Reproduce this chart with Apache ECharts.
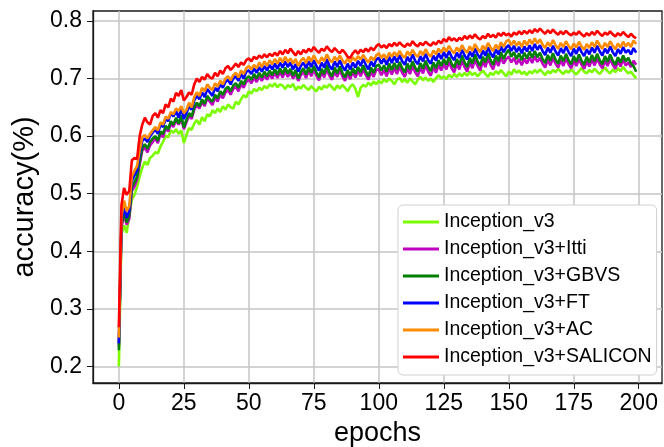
<!DOCTYPE html>
<html>
<head>
<meta charset="utf-8">
<script src="https://cdn.jsdelivr.net/npm/echarts@6/dist/echarts.min.js"></script>
<style>html,body{margin:0;padding:0;background:#fff}#c{width:664px;height:447px}</style>
</head>
<body>
<div id="c"></div>
<script>
const seriesNames = ['Inception_v3','Inception_v3+Itti','Inception_v3+GBVS','Inception_v3+FT','Inception_v3+AC','Inception_v3+SALICON'];
const xTicks = [0,25,50,75,100,125,150,175,200];
const yTicks = [0.2,0.3,0.4,0.5,0.6,0.7,0.8];

const base = [0.200,0.430,0.445,0.432,0.462,0.490,0.498,0.512,0.530,0.545,0.556,0.550,0.562,0.566,0.572,0.570,0.582,0.590,0.601,0.598,
0.610,0.606,0.612,0.604,0.610,0.588,0.602,0.614,0.611,0.622,0.628,0.620,0.633,0.626,0.638,0.634,0.645,0.640,0.648,0.642,
0.652,0.646,0.655,0.650,0.648,0.660,0.655,0.664,0.671,0.667,0.678,0.674,0.682,0.678,0.684,0.680,0.687,0.683,0.690,0.686,
0.692,0.685,0.690,0.688,0.682,0.689,0.685,0.691,0.680,0.686,0.683,0.689,0.684,0.680,0.687,0.682,0.678,0.686,0.681,0.688,
0.684,0.690,0.685,0.680,0.688,0.683,0.689,0.684,0.678,0.686,0.690,0.682,0.668,0.684,0.689,0.686,0.693,0.688,0.695,0.690,
0.696,0.692,0.699,0.694,0.700,0.696,0.690,0.698,0.701,0.694,0.699,0.693,0.700,0.695,0.690,0.698,0.703,0.697,0.702,0.696,
0.700,0.694,0.701,0.706,0.700,0.704,0.699,0.707,0.702,0.708,0.703,0.709,0.704,0.710,0.705,0.712,0.706,0.710,0.704,0.709,
0.714,0.708,0.703,0.710,0.706,0.713,0.708,0.715,0.709,0.704,0.712,0.707,0.716,0.710,0.714,0.708,0.712,0.706,0.713,0.709,
0.715,0.710,0.716,0.711,0.706,0.713,0.709,0.715,0.711,0.717,0.712,0.708,0.714,0.710,0.716,0.711,0.707,0.713,0.718,0.712,
0.709,0.715,0.711,0.717,0.712,0.708,0.714,0.719,0.713,0.709,0.716,0.711,0.718,0.713,0.720,0.714,0.709,0.712,0.706,0.700];

const itti = [0.235,0.440,0.465,0.446,0.456,0.505,0.512,0.525,0.550,0.575,0.580,0.572,0.584,0.590,0.596,0.588,0.604,0.598,0.614,0.608,
0.622,0.616,0.628,0.620,0.630,0.612,0.624,0.636,0.630,0.646,0.654,0.648,0.660,0.652,0.666,0.660,0.654,0.668,0.660,0.672,
0.666,0.676,0.680,0.672,0.682,0.686,0.678,0.690,0.684,0.694,0.698,0.692,0.702,0.694,0.704,0.696,0.706,0.698,0.708,0.700,
0.710,0.701,0.712,0.702,0.713,0.703,0.711,0.700,0.709,0.696,0.706,0.712,0.701,0.714,0.704,0.716,0.705,0.697,0.711,0.702,
0.717,0.705,0.698,0.713,0.703,0.715,0.704,0.696,0.709,0.699,0.712,0.702,0.714,0.704,0.716,0.706,0.698,0.712,0.703,0.715,
0.716,0.706,0.715,0.704,0.718,0.707,0.719,0.708,0.721,0.710,0.703,0.718,0.708,0.722,0.711,0.704,0.719,0.709,0.723,0.712,
0.705,0.720,0.710,0.724,0.714,0.726,0.716,0.729,0.718,0.711,0.726,0.716,0.731,0.720,0.712,0.728,0.718,0.733,0.722,0.714,
0.730,0.720,0.735,0.724,0.716,0.732,0.722,0.737,0.726,0.734,0.738,0.728,0.736,0.725,0.734,0.723,0.735,0.726,0.737,0.727,
0.739,0.729,0.736,0.726,0.719,0.733,0.723,0.736,0.726,0.719,0.732,0.722,0.735,0.725,0.718,0.731,0.722,0.734,0.724,0.717,
0.730,0.721,0.733,0.723,0.735,0.725,0.718,0.731,0.722,0.734,0.724,0.717,0.730,0.721,0.733,0.723,0.728,0.720,0.731,0.724];

const gbvs = [0.228,0.445,0.470,0.450,0.462,0.512,0.520,0.530,0.556,0.580,0.586,0.578,0.590,0.596,0.600,0.592,0.608,0.604,0.618,0.612,
0.626,0.620,0.632,0.622,0.636,0.615,0.628,0.640,0.634,0.650,0.658,0.652,0.664,0.656,0.670,0.664,0.660,0.672,0.666,0.678,
0.672,0.682,0.686,0.678,0.688,0.692,0.684,0.696,0.690,0.700,0.704,0.698,0.708,0.700,0.710,0.702,0.712,0.704,0.714,0.706,
0.716,0.707,0.718,0.708,0.719,0.709,0.717,0.705,0.715,0.700,0.712,0.718,0.707,0.720,0.710,0.722,0.711,0.702,0.717,0.708,
0.724,0.711,0.704,0.719,0.709,0.721,0.710,0.702,0.715,0.705,0.718,0.708,0.720,0.711,0.723,0.713,0.704,0.719,0.710,0.722,
0.724,0.714,0.723,0.712,0.726,0.715,0.727,0.716,0.729,0.718,0.711,0.726,0.716,0.730,0.719,0.712,0.727,0.717,0.731,0.720,
0.713,0.728,0.718,0.732,0.722,0.734,0.724,0.737,0.726,0.719,0.734,0.724,0.740,0.728,0.720,0.736,0.726,0.742,0.730,0.722,
0.738,0.728,0.744,0.732,0.724,0.740,0.730,0.746,0.734,0.744,0.750,0.738,0.746,0.734,0.744,0.732,0.745,0.735,0.747,0.736,
0.748,0.737,0.745,0.734,0.727,0.741,0.731,0.744,0.733,0.726,0.740,0.730,0.743,0.732,0.725,0.739,0.729,0.742,0.731,0.724,
0.738,0.728,0.741,0.730,0.743,0.732,0.725,0.739,0.729,0.742,0.731,0.724,0.737,0.728,0.740,0.730,0.736,0.726,0.722,0.712];

const ft = [0.240,0.452,0.478,0.458,0.470,0.522,0.532,0.540,0.568,0.592,0.596,0.590,0.600,0.606,0.612,0.604,0.620,0.616,0.630,0.626,
0.640,0.634,0.644,0.632,0.648,0.630,0.640,0.652,0.646,0.662,0.670,0.664,0.676,0.668,0.682,0.676,0.670,0.684,0.678,0.690,
0.684,0.694,0.698,0.690,0.700,0.704,0.696,0.708,0.700,0.712,0.714,0.708,0.718,0.710,0.720,0.712,0.722,0.714,0.724,0.716,
0.726,0.717,0.728,0.719,0.730,0.720,0.728,0.716,0.725,0.712,0.722,0.728,0.718,0.730,0.720,0.732,0.722,0.714,0.728,0.719,
0.734,0.722,0.716,0.730,0.720,0.732,0.721,0.714,0.726,0.716,0.728,0.719,0.731,0.722,0.734,0.724,0.716,0.730,0.721,0.733,
0.736,0.726,0.735,0.724,0.738,0.727,0.739,0.728,0.741,0.730,0.724,0.738,0.729,0.742,0.731,0.725,0.739,0.730,0.743,0.732,
0.726,0.740,0.731,0.744,0.734,0.746,0.736,0.748,0.738,0.732,0.745,0.736,0.750,0.740,0.733,0.747,0.738,0.752,0.742,0.735,
0.749,0.740,0.754,0.744,0.737,0.751,0.742,0.756,0.746,0.754,0.758,0.748,0.757,0.746,0.755,0.744,0.756,0.747,0.758,0.748,
0.760,0.750,0.758,0.748,0.741,0.754,0.745,0.757,0.747,0.740,0.753,0.744,0.756,0.746,0.739,0.752,0.743,0.755,0.746,0.739,
0.751,0.742,0.754,0.745,0.757,0.747,0.740,0.752,0.744,0.756,0.746,0.739,0.751,0.743,0.755,0.745,0.750,0.742,0.753,0.745];

const ac = [0.250,0.460,0.488,0.470,0.478,0.530,0.540,0.548,0.575,0.598,0.602,0.596,0.604,0.610,0.616,0.610,0.624,0.620,0.634,0.630,
0.642,0.638,0.648,0.644,0.652,0.640,0.646,0.658,0.650,0.668,0.676,0.670,0.684,0.678,0.690,0.684,0.680,0.692,0.686,0.696,
0.690,0.700,0.704,0.697,0.706,0.710,0.702,0.714,0.708,0.718,0.722,0.716,0.724,0.718,0.728,0.720,0.730,0.722,0.732,0.725,
0.734,0.726,0.736,0.728,0.738,0.729,0.735,0.726,0.734,0.722,0.731,0.736,0.727,0.738,0.730,0.740,0.732,0.726,0.737,0.730,
0.742,0.733,0.728,0.738,0.731,0.740,0.732,0.726,0.735,0.728,0.737,0.731,0.739,0.733,0.741,0.734,0.728,0.738,0.732,0.740,
0.744,0.736,0.742,0.734,0.745,0.738,0.746,0.739,0.748,0.740,0.736,0.747,0.740,0.750,0.742,0.738,0.748,0.741,0.751,0.743,
0.738,0.749,0.742,0.752,0.745,0.754,0.747,0.757,0.749,0.744,0.754,0.747,0.758,0.750,0.745,0.756,0.748,0.760,0.752,0.746,
0.757,0.750,0.762,0.754,0.748,0.759,0.751,0.763,0.755,0.765,0.767,0.758,0.766,0.757,0.764,0.755,0.766,0.758,0.768,0.760,
0.770,0.761,0.768,0.759,0.753,0.763,0.756,0.767,0.758,0.752,0.762,0.755,0.765,0.757,0.751,0.761,0.754,0.764,0.756,0.750,
0.760,0.753,0.763,0.755,0.766,0.758,0.752,0.762,0.755,0.765,0.757,0.751,0.761,0.754,0.764,0.756,0.762,0.755,0.766,0.760];

const salicon = [0.268,0.480,0.510,0.498,0.505,0.558,0.562,0.560,0.600,0.620,0.632,0.624,0.620,0.635,0.640,0.632,0.645,0.640,0.655,0.650,
0.665,0.660,0.675,0.670,0.680,0.662,0.668,0.676,0.672,0.690,0.700,0.694,0.703,0.698,0.708,0.702,0.700,0.710,0.704,0.714,
0.708,0.718,0.722,0.715,0.720,0.726,0.720,0.728,0.724,0.732,0.735,0.730,0.738,0.734,0.740,0.736,0.742,0.737,0.743,0.739,
0.745,0.740,0.748,0.742,0.750,0.744,0.752,0.746,0.740,0.748,0.742,0.750,0.745,0.752,0.747,0.755,0.749,0.745,0.752,0.748,
0.756,0.750,0.746,0.753,0.748,0.744,0.750,0.745,0.738,0.736,0.744,0.749,0.743,0.750,0.746,0.752,0.747,0.754,0.749,0.756,
0.760,0.754,0.758,0.753,0.760,0.756,0.762,0.757,0.763,0.758,0.755,0.761,0.757,0.765,0.759,0.756,0.762,0.758,0.764,0.760,
0.757,0.763,0.759,0.766,0.761,0.769,0.764,0.772,0.766,0.770,0.765,0.771,0.767,0.774,0.769,0.775,0.770,0.777,0.771,0.768,
0.774,0.770,0.778,0.772,0.776,0.771,0.779,0.774,0.780,0.775,0.778,0.773,0.780,0.776,0.782,0.777,0.783,0.778,0.784,0.779,
0.786,0.781,0.787,0.782,0.778,0.784,0.779,0.785,0.780,0.776,0.782,0.777,0.783,0.778,0.775,0.780,0.776,0.782,0.777,0.773,
0.779,0.775,0.781,0.776,0.783,0.778,0.774,0.780,0.776,0.782,0.777,0.773,0.779,0.775,0.781,0.776,0.772,0.778,0.773,0.770];

const allValues = [base, itti, gbvs, ft, ac, salicon];
const colors = ['#7cfc00','#c000c0','#008000','#0000ff','#ff8c00','#ff0000'];

const FONT = 'Liberation Sans, Arial, sans-serif';
const chart = echarts.init(document.getElementById('c'), null, {renderer:'canvas'});

const series = allValues.map((vals, k) => ({
  name: seriesNames[k],
  type: 'line',
  data: vals.map((v, i) => [i, v]),
  showSymbol: false,
  symbol: 'none',
  lineStyle: {color: colors[k], width: 2.6},
  itemStyle: {color: colors[k]},
  animation: false,
  z: 2 + k
}));

chart.setOption({
  backgroundColor: '#fff',
  animation: false,
  grid: {left: 93, top: 11, right: 2, bottom: 64, show: true, borderColor: '#1a1a1a', borderWidth: 1.3,
    containLabel: false, outerBoundsMode: 'none'},
  xAxis: {
    type: 'value', min: -9.95, max: 208.95,
    name: 'epochs', nameLocation: 'middle', nameGap: 37,
    nameTextStyle: {fontSize: 27, color: '#000', fontFamily: FONT},
    axisLine: {show: true, onZero: false, lineStyle: {color: '#1a1a1a', width: 1.3}},
    axisTick: {show: true, length: 6, customValues: xTicks, lineStyle: {color: '#1a1a1a', width: 1}},
    axisLabel: {customValues: xTicks, fontSize: 23, color: '#000', fontFamily: FONT, margin: 9},
    splitLine: {show: true, lineStyle: {color: '#c4c4c4', width: 1.5}}
  },
  yAxis: {
    type: 'value', min: 0.1712, max: 0.8174,
    name: 'accuracy(%)', nameLocation: 'middle', nameGap: 52,
    nameTextStyle: {fontSize: 29, color: '#000', fontFamily: FONT},
    axisLine: {show: true, onZero: false, lineStyle: {color: '#1a1a1a', width: 1.3}},
    axisTick: {show: true, length: 6, customValues: yTicks, lineStyle: {color: '#1a1a1a', width: 1}},
    axisLabel: {customValues: yTicks, fontSize: 23, color: '#000', fontFamily: FONT, margin: 11,
      formatter: v => v.toFixed(1)},
    splitLine: {show: true, lineStyle: {color: '#c4c4c4', width: 1.5}}
  },
  legend: {
    data: seriesNames,
    orient: 'vertical',
    left: 398, top: 205,
    padding: [7, 5, 8, 5],
    itemGap: 7,
    itemWidth: 36, itemHeight: 3,
    icon: 'rect',
    backgroundColor: '#fff',
    borderColor: '#d0d0d0', borderWidth: 1, borderRadius: 5,
    textStyle: {fontSize: 19.5, color: '#000', fontFamily: FONT, lineHeight: 20},
    z: 20
  },
  series: series
});
</script>
</body>
</html>
